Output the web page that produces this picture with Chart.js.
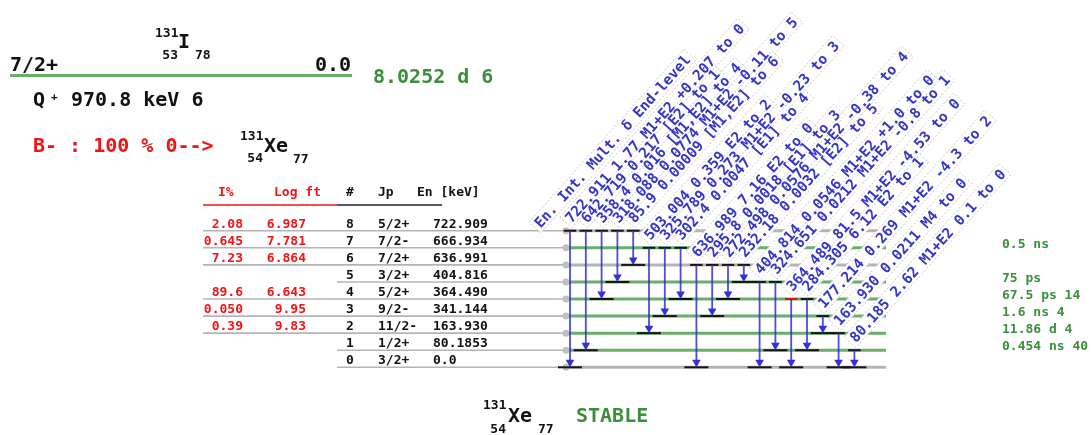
<!DOCTYPE html>
<html>
<head>
<meta charset="utf-8">
<script src="https://cdn.jsdelivr.net/npm/chart.js@4.4.1/dist/chart.umd.min.js"></script>
<style>
  html, body { margin: 0; padding: 0; background: #fff; }
  canvas { display: block; }
</style>
</head>
<body>
<canvas id="scheme" width="1091" height="435"></canvas>
<script>
// levels of 131Xe, index = level number
const levelEnergies = ['0.0', '80.1853', '163.930', '341.144', '364.490', '404.816', '636.991', '666.934', '722.909'];
const levelSpins = ['3/2+', '1/2+', '11/2-', '9/2-', '5/2+', '3/2+', '7/2+', '7/2-', '5/2+'];
const levelHalfLives = ['', '0.454 ns 40', '11.86 d 4', '1.6 ns 4', '67.5 ps 14', '75 ps', '', '0.5 ns', ''];

// beta- feeding
const betaIntensity = ['', '', '0.39', '0.050', '89.6', '', '7.23', '0.645', '2.08'];
const betaLogFt = ['', '', '9.83', '9.95', '6.643', '', '6.864', '7.781', '6.987'];

// gamma transitions
const gammaEnergies = ['722.911', '642.719', '358.4', '318.088', '85.9', '503.004', '325.789', '302.4', '636.989', '295.8', '272.498', '232.18', '404.814', '324.651', '364.489', '284.305', '177.214', '163.930', '80.185'];
const gammaIntensities = ['1.77', '0.217', '0.016', '0.0774', '0.00009', '0.359', '0.273', '0.0047', '7.16', '0.0018', '0.0576', '0.0032', '0.0546', '0.0212', '81.5', '6.12', '0.269', '0.0211', '2.62'];
const gammaMult = ['M1+E2', '[E2]', '[M1,E2]', 'M1+E2', '[M1,E2]', 'E2', 'M1+E2', '[E1]', 'E2', '[E1]', 'M1+E2', '[E2]', 'M1+E2', 'M1+E2', 'M1+E2', 'E2', 'M1+E2', 'M4', 'M1+E2'];
const gammaDelta = ['+0.207', '', '', '-0.11', '', '', '-0.23', '', '', '', '-0.38', '', '+1.0', '-0.8', '-4.53', '', '-4.3', '', '0.1'];
const gammaFrom = [8, 8, 8, 8, 8, 7, 7, 7, 6, 6, 6, 6, 5, 5, 4, 4, 3, 2, 1];
const gammaTo = [0, 1, 4, 5, 6, 2, 3, 4, 0, 3, 4, 5, 0, 1, 0, 1, 2, 0, 0];

// layout: x axis counts gamma slots, y axis counts levels
const W = 1091, H = 435;
const X0 = 570, DX = 15.8;     // pixel of slot 0, slot width
const Y0 = 367.3, DY = 17.07;  // pixel of level 0, level spacing
const px2x = p => (p - X0) / DX;

const MONO = '"DejaVu Sans Mono", monospace';
const GREEN_LINE = 'rgba(80,160,80,0.85)';
const GRAY_LINE = '#b4b4b4';
const ARROW = 'rgba(45,45,215,0.85)';
const LABEL_BLUE = '#3535c8';
const RED = '#f01414';
const GREEN_TXT = '#3b8e3b';
const HEAD_R = 5;
const LABEL_ANGLE = 48.2 * Math.PI / 180;

const strongest = gammaIntensities.reduce((best, v, i, a) => parseFloat(v) > parseFloat(a[best]) ? i : best, 0);

const datasets = [];
levelEnergies.forEach((e, i) => {
  const fed = betaIntensity[i] !== '';
  datasets.push({
    type: 'line', data: [{ x: px2x(fed ? 203 : 337), y: i }, { x: px2x(563), y: i }],
    borderColor: GRAY_LINE, borderWidth: 1.6, pointRadius: 0, order: 12
  });
  datasets.push({
    type: 'line', data: [{ x: px2x(563), y: i }, { x: px2x(886), y: i }],
    borderColor: levelHalfLives[i] ? GREEN_LINE : GRAY_LINE, borderWidth: 3, pointRadius: 0, order: 11
  });
});
datasets.push({
  type: 'scatter', data: levelEnergies.map((e, i) => ({ x: px2x(566), y: i })),
  pointRadius: 3.5, pointBackgroundColor: '#c0c0c0', pointBorderWidth: 0, order: 10
});
datasets.push({ label: 'gamma-labels', data: [], pointRadius: 0, order: 9 });

gammaEnergies.forEach((e, g) => {
  datasets.push({
    type: 'line', data: [{ x: g - 0.4, y: gammaFrom[g] }, { x: g + 0.4, y: gammaFrom[g] }],
    borderColor: g === strongest ? '#e01010' : '#151515', borderWidth: 2, pointRadius: 0, order: 4
  });
  datasets.push({
    type: 'line', data: [{ x: g - 0.76, y: gammaTo[g] }, { x: g + 0.76, y: gammaTo[g] }],
    borderColor: '#151515', borderWidth: 2, pointRadius: 0, order: 4
  });
  datasets.push({
    type: 'line', data: [{ x: g, y: gammaFrom[g] }, { x: g, y: gammaTo[g] + HEAD_R / DY }],
    borderColor: ARROW, borderWidth: 1.8, pointRadius: 0, order: 3
  });
});
datasets.push({
  type: 'scatter', data: gammaTo.map((t, g) => ({ x: g, y: t + HEAD_R / DY })),
  pointStyle: 'triangle', rotation: 180, pointRadius: HEAD_R,
  pointBackgroundColor: 'rgb(50,50,215)', pointBorderWidth: 0, order: 2
});

function txt(ctx, s, x, y, size, color, align) {
  ctx.font = 'bold ' + size + 'px ' + MONO;
  ctx.fillStyle = color;
  ctx.textAlign = align || 'left';
  ctx.textBaseline = 'alphabetic';
  ctx.fillText(s, x, y);
}

const labelPlugin = {
  id: 'gammaLabels',
  afterDatasetDraw(chart, args) {
    if (chart.data.datasets[args.index].label !== 'gamma-labels') return;
    const ctx = chart.ctx, xs = chart.scales.x, ys = chart.scales.y;
    const items = [{ text: 'En. Int. Mult. δ End-level', x: xs.getPixelForValue(-1.85), y: ys.getPixelForValue(8) - 2 }];
    gammaEnergies.forEach((e, g) => {
      const parts = [e, gammaIntensities[g], gammaMult[g], gammaDelta[g], 'to ' + gammaTo[g]].filter(Boolean);
      items.push({ text: parts.join(' '), x: xs.getPixelForValue(g) + 1.5, y: ys.getPixelForValue(gammaFrom[g]) - 7 });
    });
    ctx.save();
    ctx.font = 'bold 14.45px ' + MONO;
    items.forEach(it => { it.w = ctx.measureText(it.text).width; });
    // white boxes first, then dashed outlines, then text
    items.forEach(it => {
      ctx.save(); ctx.translate(it.x, it.y); ctx.rotate(-LABEL_ANGLE);
      ctx.fillStyle = 'rgba(255,255,255,0.95)';
      ctx.fillRect(-3, -13, it.w + 6, 16);
      ctx.restore();
    });
    items.forEach(it => {
      ctx.save(); ctx.translate(it.x, it.y); ctx.rotate(-LABEL_ANGLE);
      ctx.setLineDash([2, 2]); ctx.lineWidth = 0.8; ctx.strokeStyle = 'rgba(175,175,175,0.8)';
      ctx.strokeRect(-3, -13, it.w + 6, 16);
      ctx.restore();
    });
    items.forEach(it => {
      ctx.save(); ctx.translate(it.x, it.y); ctx.rotate(-LABEL_ANGLE);
      ctx.fillStyle = LABEL_BLUE; ctx.textAlign = 'left'; ctx.textBaseline = 'alphabetic';
      ctx.fillText(it.text, 0, 0);
      ctx.restore();
    });
    ctx.restore();
  },
  afterDatasetsDraw(chart) {
    const ctx = chart.ctx, ys = chart.scales.y;
    ctx.save();
    // parent 131I
    txt(ctx, '131', 155, 37, 13, '#111');
    txt(ctx, 'I', 178, 48, 20, '#111');
    txt(ctx, '53', 178, 59, 13, '#111', 'right');
    txt(ctx, '78', 195, 59, 13, '#111');
    txt(ctx, '7/2+', 10, 71, 20, '#111');
    txt(ctx, '0.0', 351, 71, 20, '#111', 'right');
    ctx.strokeStyle = 'rgba(90,165,90,0.9)'; ctx.lineWidth = 3;
    ctx.beginPath(); ctx.moveTo(10, 75.5); ctx.lineTo(352, 75.5); ctx.stroke();
    txt(ctx, '8.0252 d 6', 373, 83, 20, GREEN_TXT);
    txt(ctx, 'Q', 33, 106, 20, '#111');
    txt(ctx, '+', 51, 100, 11, '#111');
    txt(ctx, '970.8 keV 6', 71, 106, 20, '#111');
    txt(ctx, 'B- : 100 % 0-->', 33, 152, 20, RED);
    txt(ctx, '131', 240, 140, 13, '#111');
    txt(ctx, 'Xe', 264, 152, 20, '#111');
    txt(ctx, '54', 263, 162, 13, '#111', 'right');
    txt(ctx, '77', 293, 163, 13, '#111');

    // table header
    txt(ctx, 'I%', 218, 196, 13, RED);
    txt(ctx, 'Log ft', 274, 196, 13, RED);
    txt(ctx, '#', 346, 196, 13, '#111');
    txt(ctx, 'Jp', 378, 196, 13, '#111');
    txt(ctx, 'En [keV]', 417, 196, 13, '#111');
    ctx.lineWidth = 1.5;
    ctx.strokeStyle = RED;
    ctx.beginPath(); ctx.moveTo(203, 205); ctx.lineTo(337, 205); ctx.stroke();
    ctx.strokeStyle = '#222';
    ctx.beginPath(); ctx.moveTo(337, 205); ctx.lineTo(442, 205); ctx.stroke();

    levelEnergies.forEach((e, i) => {
      const y = ys.getPixelForValue(i);
      txt(ctx, betaIntensity[i], 243, y - 3, 13, RED, 'right');
      txt(ctx, betaLogFt[i], 306, y - 3, 13, RED, 'right');
      txt(ctx, String(i), 346, y - 3, 13, '#111');
      txt(ctx, levelSpins[i], 378, y - 3, 13, '#111');
      txt(ctx, e, 433, y - 3, 13, '#111');
      if (levelHalfLives[i]) txt(ctx, levelHalfLives[i], 1002, y, 13, GREEN_TXT);
    });

    // daughter 131Xe
    txt(ctx, '131', 483, 409, 13, '#111');
    txt(ctx, 'Xe', 508, 422, 20, '#111');
    txt(ctx, '54', 506, 433, 13, '#111', 'right');
    txt(ctx, '77', 538, 433, 13, '#111');
    txt(ctx, 'STABLE', 576, 422, 20, GREEN_TXT);
    ctx.restore();
  }
};

new Chart(document.getElementById('scheme'), {
  type: 'scatter',
  data: { datasets: datasets },
  options: {
    responsive: false,
    devicePixelRatio: 1,
    animation: false,
    events: [],
    layout: { padding: 0, autoPadding: false },
    plugins: { legend: { display: false }, tooltip: { enabled: false } },
    scales: {
      x: { type: 'linear', display: false, min: px2x(0), max: px2x(W) },
      y: { type: 'linear', display: false, min: -(H - Y0) / DY, max: Y0 / DY }
    }
  },
  plugins: [labelPlugin]
});
</script>
</body>
</html>
